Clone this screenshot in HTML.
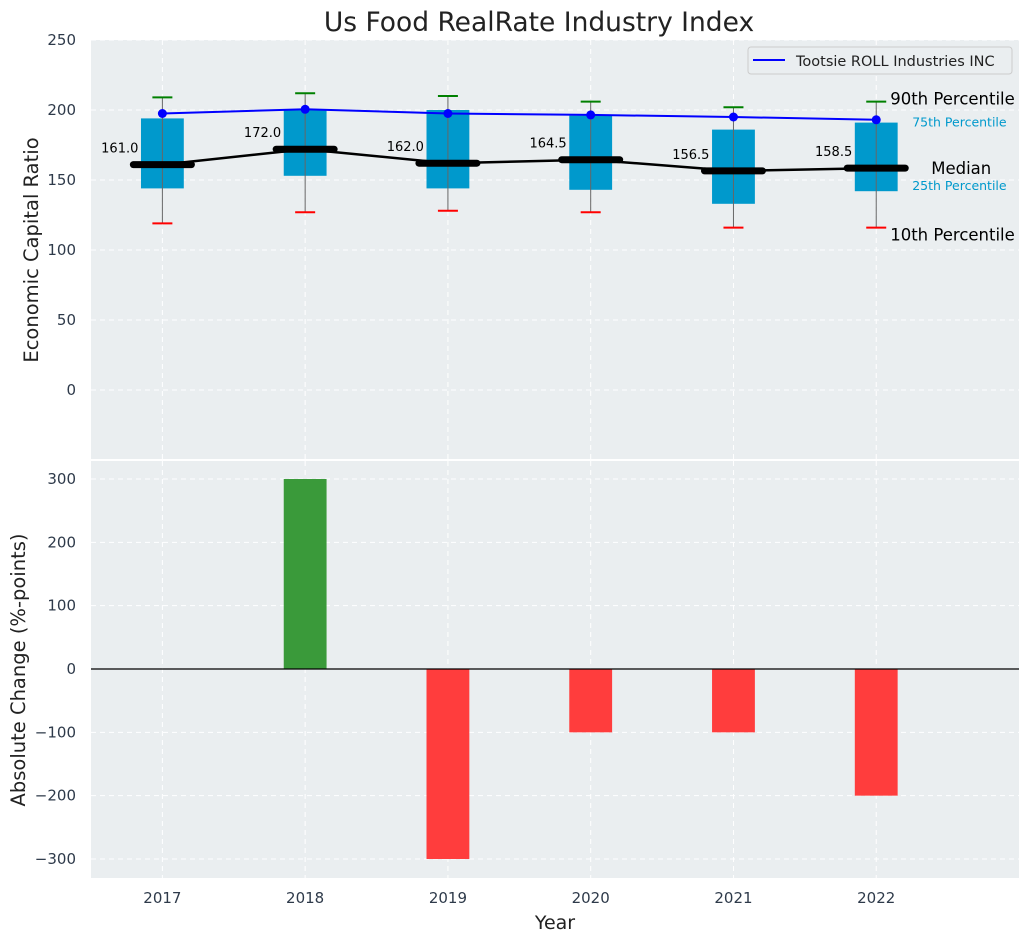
<!DOCTYPE html>
<html><head><meta charset="utf-8"><style>
html,body{margin:0;padding:0;background:#fff}
svg{display:block;font-family:"DejaVu Sans","Liberation Sans",sans-serif}
</style></head><body>
<svg id="c" width="1029" height="942" xmlns="http://www.w3.org/2000/svg">
<text x="539" y="31" font-size="26.5" text-anchor="middle" fill="#222">Us Food RealRate Industry Index</text>
<g id="topPanel"></g>
<g id="botPanel"></g>
<text x="38" y="250" font-size="19.5" fill="#222" text-anchor="middle" transform="rotate(-90 38 250)">Economic Capital Ratio</text>
<text x="25" y="670" font-size="19.5" fill="#222" text-anchor="middle" transform="rotate(-90 25 670)">Absolute Change (%-points)</text>
<text x="555" y="929" font-size="19" fill="#222" text-anchor="middle">Year</text>
</svg>
<script>
const years=[2017,2018,2019,2020,2021,2022];
const p10=[119,127,128,127,116,116];
const q1=[144,153,144,143,133,142];
const med=[161,172,162,164.5,156.5,158.5];
const q3=[194,200,200,196,186,191];
const p90=[209,212,210,206,202,206];
const company=[197.5,200.5,197.5,196.5,195,193];
const change=[0,300,-300,-100,-100,-200];
const topTicks=[0,50,100,150,200,250];
const botTicks=[-300,-200,-100,0,100,200,300];

const NS="http://www.w3.org/2000/svg";
const L=91,R=1019;
const x=v=>L+(v-2016.5)/(2023-2016.5)*(R-L);
const yT=v=>40+(250-v)/300*420;
const yB=v=>669-v*190/300;
function mk(p,t,a){const e=document.createElementNS(NS,t);for(const k in a)e.setAttribute(k,a[k]);p.appendChild(e);return e;}
const topG=document.getElementById('topPanel'),botG=document.getElementById('botPanel');

let bg=mk(topG,'rect',{x:L,y:40,width:R-L,height:419,fill:'#eaeef0'});


let bg2=mk(botG,'rect',{x:L,y:461,width:R-L,height:417,fill:'#eaeef0'});



topTicks.forEach(t=>{
 let g=mk(topG,'line',{x1:L,x2:R,y1:yT(t),y2:yT(t),stroke:'#fff','stroke-dasharray':'5,4','stroke-width':1});
 
 
 let tx=mk(topG,'text',{x:76,y:yT(t)+5,'font-size':15,fill:'#2e3a4a','text-anchor':'end'});tx.textContent=t;
 
 
});
botTicks.forEach(t=>{
 let g=mk(botG,'line',{x1:L,x2:R,y1:yB(t),y2:yB(t),stroke:'#fff','stroke-dasharray':'5,4','stroke-width':1});
 
 
 let tx=mk(botG,'text',{x:76,y:yB(t)+5,'font-size':15,fill:'#2e3a4a','text-anchor':'end'});tx.textContent=(t<0?'\u2212'+(-t):t);
 
 
});
years.forEach(yr=>{
 [[topG,40,459],[botG,461,878]].forEach(([p,a,b])=>{
  let g=mk(p,'line',{x1:x(yr),x2:x(yr),y1:a,y2:b,stroke:'#fff','stroke-dasharray':'5,4'});
  
  
 });
 let tx=mk(botG,'text',{x:x(yr),y:903,'font-size':15,fill:'#2e3a4a','text-anchor':'middle'});tx.textContent=yr;
 
 
});

const bw=(x(2017.15)-x(2017));
years.forEach((yr,i)=>{
 const cx=x(yr);
 let b=mk(topG,'rect',{x:cx-bw,y:yT(q3[i]),width:2*bw,height:yT(q1[i])-yT(q3[i]),fill:'#0099cc'});
 
 
 let w=mk(topG,'line',{x1:cx,x2:cx,y1:yT(p10[i]),y2:yT(p90[i]),stroke:'#666','stroke-width':1});
 
 
 let c1=mk(topG,'line',{x1:cx-10,x2:cx+10,y1:yT(p90[i]),y2:yT(p90[i]),stroke:'green','stroke-width':2});
 
 
 let c2=mk(topG,'line',{x1:cx-10,x2:cx+10,y1:yT(p10[i]),y2:yT(p10[i]),stroke:'red','stroke-width':2});
 
 
});
let mp=mk(topG,'polyline',{points:years.map((yr,i)=>x(yr)+','+yT(med[i])).join(' '),fill:'none',stroke:'#000','stroke-width':2.5});


years.forEach((yr,i)=>{
 const cx=x(yr);
 let m=mk(topG,'line',{x1:cx-29,x2:cx+29,y1:yT(med[i]),y2:yT(med[i]),stroke:'#000','stroke-width':7,'stroke-linecap':'round'});
 
 
 let t=mk(topG,'text',{x:cx-24,y:yT(med[i])-12,'font-size':13,fill:'#000','text-anchor':'end'});t.textContent=med[i].toFixed(1);
 
 
});
let cp=mk(topG,'polyline',{points:years.map((yr,i)=>x(yr)+','+yT(company[i])).join(' '),fill:'none',stroke:'blue','stroke-width':2});


years.forEach((yr,i)=>{
 let d=mk(topG,'circle',{cx:x(yr),cy:yT(company[i]),r:4.5,fill:'blue'});
 
 
});
const last=years.length-1,lx=x(years[last]);
[['90th Percentile',lx+14,yT(p90[last])+3,16.5,'#000'],['75th Percentile',lx+36,yT(q3[last])+4,12.5,'#0099cc'],['Median',lx+55,yT(med[last])+6,16.5,'#000'],['25th Percentile',lx+36,yT(q1[last])-1,12.5,'#0099cc'],['10th Percentile',lx+14,yT(p10[last])+13,16.5,'#000']].forEach(a=>{
 let t=mk(topG,'text',{x:a[1],y:a[2],'font-size':a[3],fill:a[4]});t.textContent=a[0];
 
 
});
let lg=mk(topG,'g',{});


mk(lg,'rect',{x:748,y:47,width:264,height:27,rx:3,fill:'#eaeef0',stroke:'#ccc'});
mk(lg,'line',{x1:753,x2:785,y1:60,y2:60,stroke:'blue','stroke-width':2});
let lt=mk(lg,'text',{x:796,y:66,'font-size':14.5,fill:'#222'});lt.textContent='Tootsie ROLL Industries INC';

years.forEach((yr,i)=>{
 const v=change[i];
 if(v===0)return;
 let b=mk(botG,'rect',{x:x(yr)-bw,y:Math.min(yB(v),yB(0)),width:2*bw,height:Math.abs(yB(v)-yB(0)),fill:v>0?'#3a9a3a':'#ff3d3d'});
 
 
});
let z=mk(botG,'line',{x1:L,x2:R,y1:yB(0),y2:yB(0),stroke:'#000','stroke-width':1.2});


</script>
</body></html>
